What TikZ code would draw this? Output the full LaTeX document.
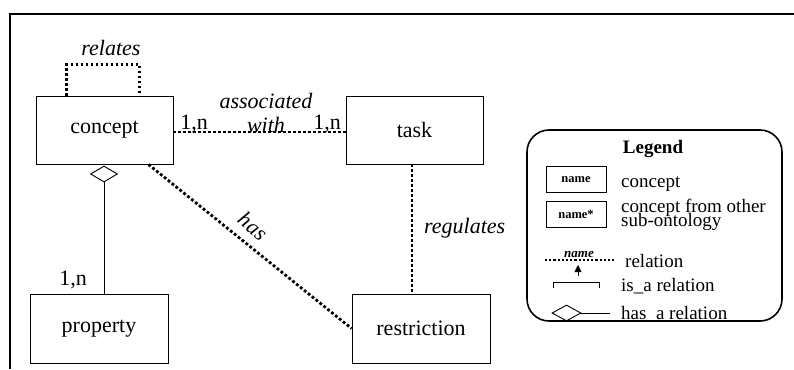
\documentclass[tikz,border=0pt]{standalone}
\usepackage{fontspec}
\setmainfont{Liberation Serif}
\usetikzlibrary{shapes.geometric,arrows.meta,calc}
\begin{document}
\begin{tikzpicture}[x=1pt,y=-1pt,
  box/.style={draw, line width=0.9pt, minimum width=137pt, minimum height=68pt, inner sep=0pt, font=\fontsize{22}{24}\selectfont},
  rel/.style={line width=2.8pt, dash pattern=on 2.8pt off 2.2pt},
  lbl/.style={font=\fontsize{22}{24}\selectfont\itshape, inner sep=0pt},
  card/.style={font=\fontsize{22}{24}\selectfont, inner sep=0pt},
  legtxt/.style={font=\fontsize{19}{20}\selectfont, inner sep=0pt, anchor=base west},
  legbox/.style={draw, line width=0.9pt, minimum width=60pt, minimum height=26pt, inner sep=0pt, font=\fontsize{12.5}{14}\selectfont\bfseries},
  dia/.style={diamond, draw, line width=0.9pt, inner sep=0pt, aspect=1.8},
  thin/.style={line width=0.9pt}
]
\useasboundingbox (0,0) rectangle (794,369);
% frame
\draw[line width=1.8pt] (10,369) -- (10,14) -- (794,14);

% main boxes
\node[box] (concept) at (104.5,130) {concept};
\node[box] (task) at (414.5,130) {task};
\node[box, minimum width=138pt, minimum height=69pt] (property) at (99,328.5) {property};
\node[box, minimum width=138pt, minimum height=69pt] (restriction) at (421,328.5) {restriction};

% relates loop
\draw[rel] ([xshift=31pt]concept.north west) -- ++(0,-31) -| ([xshift=-34pt]concept.north east);
\node[lbl, anchor=base] (relL) at (111,56) {relates};

% associated with
\draw[rel] ([yshift=-2pt]concept.east) -- ([yshift=-2pt]task.west);
\node[lbl, anchor=base] (assocL) at (266,108) {associated};
\node[lbl, anchor=base] (withL) at (266,132) {with};
\node[card, anchor=base] (c1) at (194,129) {1,n};
\node[card, anchor=base] (c2) at (327,129) {1,n};

% has
\draw[rel] ([xshift=-25pt]concept.south east) -- (restriction.west);
\node[lbl, rotate=-40] (hasL) at (253,226) {has};

% regulates
\draw[rel] ([xshift=-2.5pt]task.south) -- ([xshift=-2.5pt]task.south |- restriction.north);
\node[lbl, anchor=base west] (regL) at (424,233) {regulates};

% has_a concept-property
\node[dia, minimum width=27pt, minimum height=16pt] (cdia) at (104,174) {};
\draw[thin] (cdia.south) -- (cdia.south |- property.north);
\node[card, anchor=base] (c3) at (73,285) {1,n};

% legend
\node[draw, line width=1.6pt, rounded corners=22pt, minimum width=255pt, minimum height=191pt] (legend) at (654.5,225.5) {};
\node[font=\fontsize{19}{20}\selectfont\bfseries, anchor=base, inner sep=0pt] (legT) at (653,153) {Legend};
\node[legbox] (lgc) at (576,179.5) {name};
\node[legtxt] (lgct) at (621,187) {concept};
\node[legbox] (lgo) at (576,214.5) {name*};
\node[legtxt] (lgot1) at (621,212) {concept from other};
\node[legtxt] (lgot2) at (621,226) {sub-ontology};

\coordinate (r1) at (545,260);
\coordinate (r2) at (614,260);
\draw[line width=2.2pt, dash pattern=on 2.2pt off 2pt] (r1) -- (r2);
\node[font=\fontsize{13}{14}\selectfont\itshape\bfseries, anchor=base, inner sep=0pt] (rname) at (579,257) {name};
\node[legtxt] (lrt) at (625,267) {relation};

\coordinate (ia) at (578,276);
\draw[thin, -{Triangle[length=7pt,width=7pt]}] (ia) -- ++(0,-11);
\draw[thin] (553,288) |- (599,282) -- (599,288);
\node[legtxt] (lit) at (621,291) {is\_a relation};

\node[dia, minimum width=29pt, minimum height=16pt] (ldia) at (566.5,313) {};
\coordinate (lhe) at (610,313);
\draw[thin] (ldia.east) -- (lhe);
\node[legtxt] (lht) at (621,319) {has\_a relation};
\end{tikzpicture}
\end{document}
